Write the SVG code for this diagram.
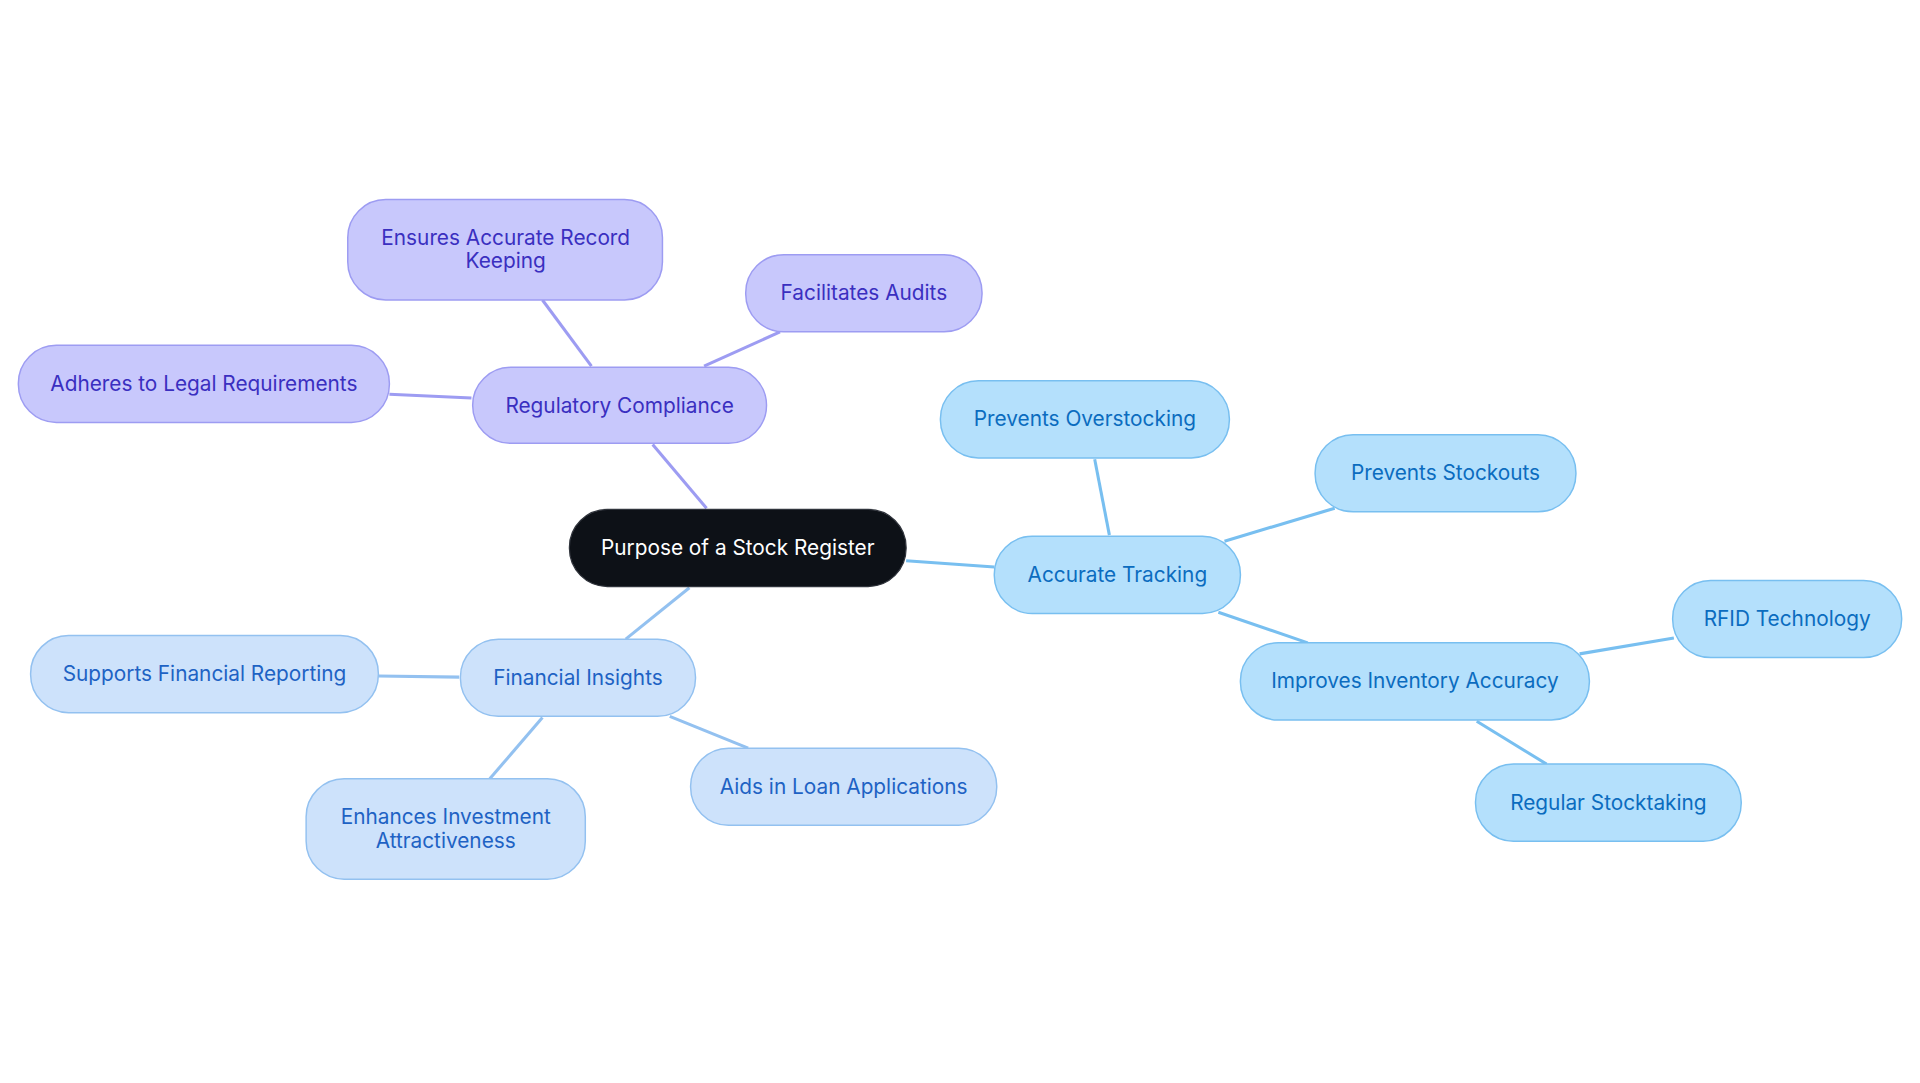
<svg xmlns="http://www.w3.org/2000/svg" width="1920" height="1083" viewBox="0 0 1920 1083">
<style>
text{font-family:Inter,"Noto Sans","Liberation Sans",sans-serif;font-size:17px;text-anchor:middle;dominant-baseline:central}
.p rect{fill:#c8c8fc;stroke:#9d9cf2;stroke-width:1.2}.p text{fill:#3a2fc0}
.b rect{fill:#cde2fb;stroke:#93c1f0;stroke-width:1.2}.b text{fill:#1e62c4}
.c rect{fill:#b4e0fc;stroke:#78bff0;stroke-width:1.2}.c text{fill:#0b6cbf}
.lp{stroke:#9d9cf2;stroke-width:2.5;fill:none}.lb{stroke:#93c1f0;stroke-width:2.5;fill:none}.lc{stroke:#78bff0;stroke-width:2.5;fill:none}
</style>
<rect width="1920" height="1083" fill="#fff"/>
<g transform="scale(1.22449)">
<g id="connectors">
<line class="lp" x1="577" y1="415" x2="533" y2="363"/>
<line class="lp" x1="483" y1="299" x2="443" y2="245"/>
<line class="lp" x1="575" y1="299" x2="637" y2="271"/>
<line class="lp" x1="385" y1="325" x2="318" y2="322"/>
<line class="lb" x1="563" y1="480" x2="511" y2="522"/>
<line class="lb" x1="375" y1="553" x2="309" y2="552"/>
<line class="lb" x1="443" y1="586" x2="400" y2="636"/>
<line class="lb" x1="547" y1="585" x2="611" y2="611"/>
<line class="lc" x1="740" y1="458" x2="812" y2="463"/>
<line class="lc" x1="906" y1="437" x2="894" y2="375"/>
<line class="lc" x1="1000" y1="442" x2="1090" y2="415"/>
<line class="lc" x1="995" y1="500" x2="1068" y2="525"/>
<line class="lc" x1="1290" y1="534" x2="1367" y2="521"/>
<line class="lc" x1="1206" y1="589" x2="1263" y2="624"/>
</g>
<g id="root"><rect x="465" y="416" width="275" height="63" rx="31" fill="#0d1117" stroke="#30343c"/><text x="602.5" y="447" fill="#fff">Purpose of a Stock Register</text></g>
<g id="rc" class="p"><rect x="386" y="300" width="240" height="62" rx="31"/><text x="506" y="331">Regulatory Compliance</text></g>
<g id="ear" class="p"><rect x="284" y="163" width="257" height="82" rx="31"/><text x="413" y="194">Ensures Accurate Record</text><text x="413" y="213">Keeping</text></g>
<g id="fa" class="p"><rect x="609" y="208" width="193" height="63" rx="31"/><text x="705.5" y="239">Facilitates Audits</text></g>
<g id="alr" class="p"><rect x="15" y="282" width="303" height="63" rx="31"/><text x="166.5" y="313">Adheres to Legal Requirements</text></g>
<g id="fi" class="b"><rect x="376" y="522" width="192" height="63" rx="31"/><text x="472" y="553">Financial Insights</text></g>
<g id="sfr" class="b"><rect x="25" y="519" width="284" height="63" rx="31"/><text x="167" y="550">Supports Financial Reporting</text></g>
<g id="eia" class="b"><rect x="250" y="636" width="228" height="82" rx="31"/><text x="364" y="667">Enhances Investment</text><text x="364" y="686">Attractiveness</text></g>
<g id="ala" class="b"><rect x="564" y="611" width="250" height="63" rx="31"/><text x="689" y="642">Aids in Loan Applications</text></g>
<g id="at" class="c"><rect x="812" y="438" width="201" height="63" rx="31"/><text x="912.5" y="469">Accurate Tracking</text></g>
<g id="po" class="c"><rect x="768" y="311" width="236" height="63" rx="31"/><text x="886" y="342">Prevents Overstocking</text></g>
<g id="ps" class="c"><rect x="1074" y="355" width="213" height="63" rx="31"/><text x="1180.5" y="386">Prevents Stockouts</text></g>
<g id="iia" class="c"><rect x="1013" y="525" width="285" height="63" rx="31"/><text x="1155.5" y="556">Improves Inventory Accuracy</text></g>
<g id="rfid" class="c"><rect x="1366" y="474" width="187" height="63" rx="31"/><text x="1459.5" y="505">RFID Technology</text></g>
<g id="rs" class="c"><rect x="1205" y="624" width="217" height="63" rx="31"/><text x="1313.5" y="655">Regular Stocktaking</text></g>
</g>
</svg>
